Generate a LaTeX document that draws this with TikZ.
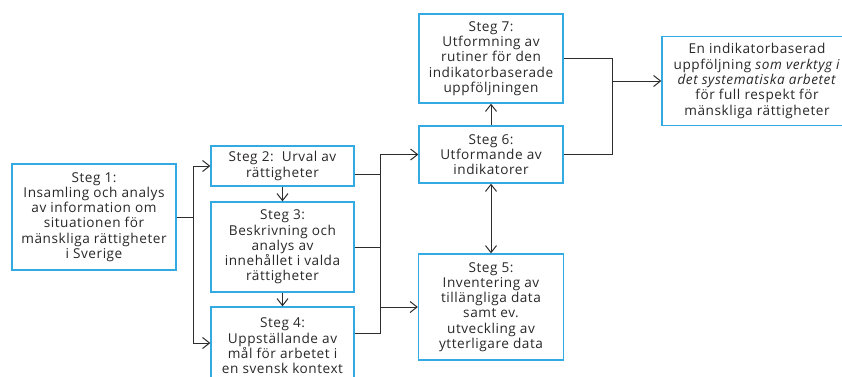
\documentclass[tikz,border=0pt]{standalone}
\usepackage{fontspec}
\setmainfont[LetterSpace=4]{Open Sans}
\usetikzlibrary{arrows.meta,calc}
\definecolor{boxblue}{RGB}{52,170,226}
\definecolor{linegray}{RGB}{45,45,45}
\definecolor{txtgray}{RGB}{40,40,40}
\begin{document}
\begin{tikzpicture}[x=1pt,y=-1pt,
  stepbox/.style={draw=boxblue,line width=1.3pt,fill=white,align=center,
    text=txtgray,inner sep=0pt,font=\fontsize{13.6}{15.3}\selectfont},
  conn/.style={draw=linegray,line width=1pt},
  arr/.style={conn,-{Straight Barb[length=7pt,width=11pt]}},
  darr/.style={conn,{Straight Barb[length=7pt,width=11pt]}-{Straight Barb[length=7pt,width=11pt]}}]
\useasboundingbox (0,0) rectangle (842,376);
\node[stepbox,minimum width=164pt,minimum height=106pt] (s1) at (94,217)
  {Steg 1:\\Insamling och analys\\av information om\\situationen för\\mänskliga rättigheter\\i Sverige};
\node[stepbox,minimum width=143pt,minimum height=40pt] (s2) at (282.5,166)
  {Steg 2:\ \ Urval av\\rättigheter};
\node[stepbox,minimum width=143pt,minimum height=90pt] (s3) at (282.5,247)
  {Steg 3:\\Beskrivning och\\analys av\\innehållet i valda\\rättigheter};
\node[stepbox,minimum width=143pt,minimum height=78pt] (s4) at (282.5,346)
  {Steg 4:\\Uppställande av\\mål för arbetet i\\en svensk kontext};
\node[stepbox,minimum width=144pt,minimum height=89pt] (s7) at (491,58.5)
  {Steg 7:\\Utformning av\\rutiner för den\\indikatorbaserade\\uppföljningen};
\node[stepbox,minimum width=144pt,minimum height=57pt] (s6) at (491,154.5)
  {Steg 6:\\Utformande av\\indikatorer};
\node[stepbox,minimum width=145pt,minimum height=106pt] (s5) at (491,307)
  {Steg 5:\\Inventering av\\tillängliga data\\samt ev.\\utveckling av\\ytterligare data};
\node[stepbox,minimum width=190pt,minimum height=89pt] (res) at (757,81)
  {En indikatorbaserad\\uppföljning \textit{som verktyg i}\\\textit{det systematiska arbetet}\\för full respekt för\\mänskliga rättigheter};
% left trunk
\coordinate (j1) at (193,217);
\draw[conn] (s1.east) -- (j1);
\draw[arr] (j1) |- (s2.west);
\draw[arr] (j1) |- ($(s4.west)+(0,-3)$);
% vertical steps
\draw[arr] (s2) -- (s3);
\draw[arr] (s3) -- (s4);
% right trunk
\coordinate (a2) at (380,174);
\coordinate (a3) at (380,247);
\coordinate (a4) at (380,333);
\draw[conn] (s2.east |- a2) -- (a2);
\draw[conn] (s3.east |- a3) -- (a3);
\draw[conn] (s4.east |- a4) -| (a2 |- s6.west);
\draw[arr] (a2 |- s6.west) -- (s6.west);
\draw[arr] (a2 |- s5.west) -- (s5.west);
% steps 5,6,7
\draw[arr] (s6) -- (s7);
\draw[darr] (s6) -- (s5);
% to result
\coordinate (b) at (612,81);
\draw[conn] (s7.east) -| (b);
\draw[conn] (s6.east) -| (b);
\draw[arr] (b) -- (res.west);
\end{tikzpicture}
\end{document}
